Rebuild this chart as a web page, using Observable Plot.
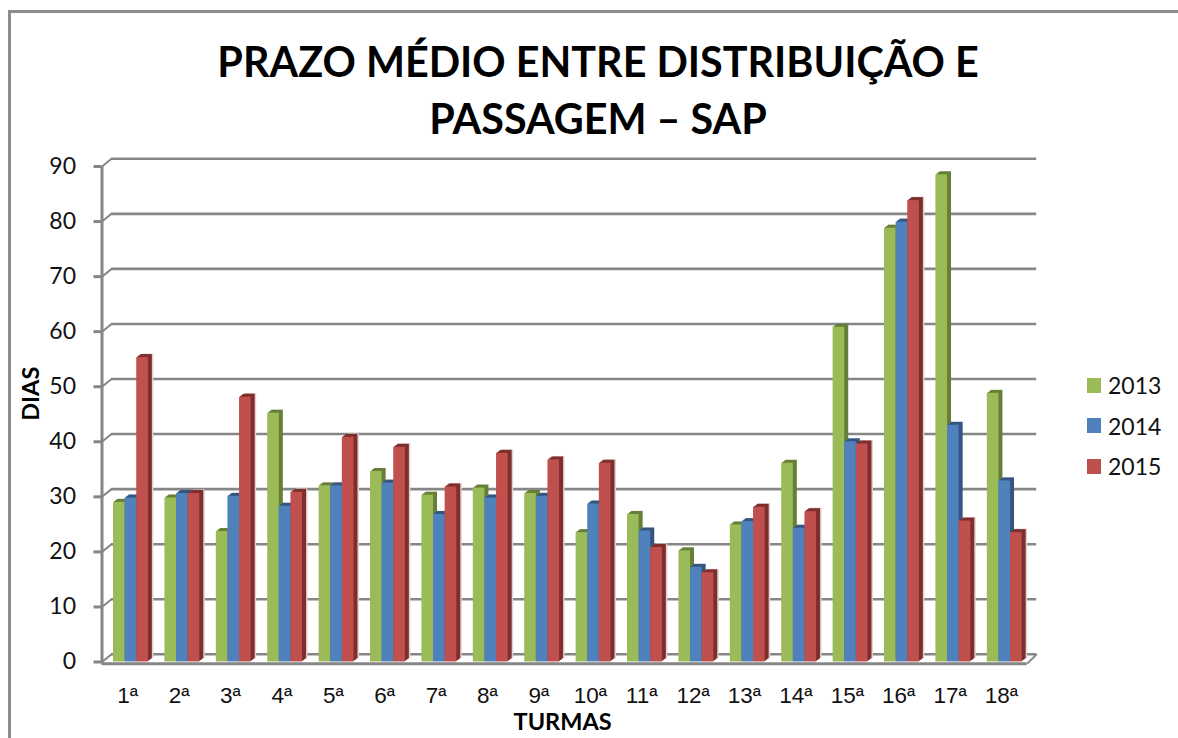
<!DOCTYPE html>
<html lang="pt">
<head>
<meta charset="utf-8">
<script src="https://cdn.jsdelivr.net/npm/d3@7"></script>
<script src="https://cdn.jsdelivr.net/npm/@observablehq/plot@0.6"></script>
<style>
  html, body { margin: 0; padding: 0; background: #fff; overflow: hidden; }
  #wrap { position: relative; width: 1178px; height: 738px; font-family: Lato, sans-serif; color: #111; }
  #edgeTop { position: absolute; left: 8px; top: 10px; right: 0; height: 3px; background: #8c8c8c; }
  #edgeLeft { position: absolute; left: 8px; top: 10px; bottom: 0; width: 3px; background: #8c8c8c; }
  #title { position: absolute; left: 0; top: 33px; width: 1196px; text-align: center; font-weight: 700; font-size: 41.3px; line-height: 57px; color: #000; }
  #legend { position: absolute; left: 1087px; top: 365px; }
  .item { display: flex; align-items: center; height: 40.5px; font-size: 23px; }
  .swatch { width: 14px; height: 15px; margin-right: 7px; }
  svg { display: block; position: absolute; left: 0; top: 0; }
</style>
</head>
<body>
<div id="wrap">
  <div id="chart"></div>
  <div id="edgeTop"></div>
  <div id="edgeLeft"></div>
  <div id="title">PRAZO MÉDIO ENTRE DISTRIBUIÇÃO E<br>PASSAGEM – SAP</div>
  <div id="legend"></div>
</div>
<script>
const turmas = ["1ª","2ª","3ª","4ª","5ª","6ª","7ª","8ª","9ª","10ª","11ª","12ª","13ª","14ª","15ª","16ª","17ª","18ª"];
const anos = ["2013","2014","2015"];
const v2013 = [29,29.8,23.7,45.2,32,34.6,30.3,31.6,30.6,23.5,26.8,20.2,24.9,36.1,60.8,78.8,88.5,48.8];
const v2014 = [29.8,30.6,30.1,28.3,32,32.5,26.8,29.8,30.1,28.7,23.8,17.2,25.5,24.3,40,79.9,43,32.9];
const v2015 = [55.3,30.6,48.1,30.8,40.8,39,31.8,37.9,36.7,36.1,20.8,16.2,28.1,27.3,39.6,83.8,25.6,23.5];
const series = [v2013, v2014, v2015];
const cores = ["#9bbb59","#4f81bd","#c0504d"];
const lados = ["#667f36","#34557f","#7e2f2d"];
const yTicks = [0,10,20,30,40,50,60,70,80,90];

const gray = "#868686";
const offX = 0.185, offY = 1.4;      // wall depth, in scale units
const barStart = 0.224, barW = 0.226;

function rows(j) {
  return series[j].map((valor, i) => ({
    x1: i + barStart + j * barW,
    x2: i + barStart + (j + 1) * barW,
    valor
  }));
}

const barMarks = anos.flatMap((_, j) => {
  const d = rows(j);
  const layers = [];
  if (j === 2) layers.push(Plot.rectY(d, {x1:"x1", x2:"x2", y1:0, y2:"valor", fill:"#e2cfcf", dx:5.5, dy:-3.5, inset:0}));
  for (const k of [1,2,3,4]) {
    layers.push(Plot.rectY(d, {x1:"x1", x2:"x2", y1:0, y2:"valor", fill:lados[j], dx:k, dy:-k*0.75, inset:0}));
  }
  layers.push(Plot.rectY(d, {x1:"x1", x2:"x2", y1:0, y2:"valor", fill:cores[j], inset:0}));
  return layers;
});

const chart = Plot.plot({
  width: 1178,
  height: 738,
  marginLeft: 101.5,
  marginRight: 151.3,
  marginTop: 166,
  marginBottom: 76.5,
  style: {fontFamily: "Lato, sans-serif", background: "transparent", overflow: "visible"},
  x: {domain: [0, 18], axis: null},
  y: {domain: [0, 90], axis: null},
  marks: [
    Plot.ruleY(yTicks, {y: d => d + offY, x1: offX, x2: 18 + offX, stroke: gray, strokeWidth: 2.6}),
    Plot.link(yTicks, {x1: 0, y1: d => d, x2: offX, y2: d => d + offY, stroke: gray, strokeWidth: 2}),
    Plot.link([0], {x1: 18, y1: -0.3, x2: 18 + offX, y2: offY, stroke: gray, strokeWidth: 2}),
    Plot.ruleX([0], {y1: -0.3, y2: 90, stroke: gray, strokeWidth: 3}),
    Plot.ruleY([-0.3], {x1: 0, x2: 18, stroke: gray, strokeWidth: 3}),
    ...barMarks,
    Plot.axisY({ticks: yTicks, tickSize: 8, tickPadding: 18, fontSize: 23, stroke: gray, strokeWidth: 3, fill: "#111", label: null}),
    Plot.axisX({ticks: turmas.map((_, i) => i + 0.5), tickFormat: d => turmas[d - 0.5], tickSize: 0, tickPadding: 25, fontSize: 22.5, fontFamily: "Liberation Sans, sans-serif", fill: "#111", label: null}),
    Plot.text(["TURMAS"], {frameAnchor: "bottom", dx: -2, dy: 68, fontSize: 23.5, fontWeight: 700, fill: "#000"}),
    Plot.text(["DIAS"], {frameAnchor: "left", dx: -70.5, dy: 6.5, rotate: -90, fontSize: 23.5, fontWeight: 700, fill: "#000"})
  ]
});
document.getElementById("chart").append(chart);

const legend = document.getElementById("legend");
anos.forEach((ano, j) => {
  const item = document.createElement("div");
  item.className = "item";
  const sw = document.createElement("span");
  sw.className = "swatch";
  sw.style.background = cores[j];
  const label = document.createElement("span");
  label.textContent = ano;
  item.append(sw, label);
  legend.append(item);
});
</script>
</body>
</html>
